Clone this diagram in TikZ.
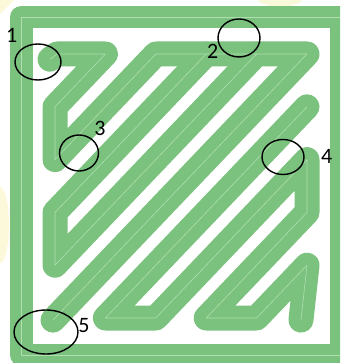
\documentclass[tikz,border=0pt]{standalone}
\usepackage{fontspec}
\setmainfont{Carlito}
\usetikzlibrary{shapes.geometric}
\definecolor{pathgreen}{RGB}{122,194,126}
\definecolor{pathlight}{RGB}{176,222,176}
\definecolor{wmyellow}{RGB}{252,249,218}
\begin{document}
\begin{tikzpicture}[x=1pt,y=-1pt,
  band/.style={draw=pathgreen, line width=25pt, line join=round, line cap=round},
  bandline/.style={draw=pathlight, line width=0.6pt, line join=round, line cap=round},
  ringmark/.style={ellipse, draw=black, line width=1.4pt, inner sep=0pt},
  numlabel/.style={font=\fontsize{22}{22}\selectfont, inner sep=0pt, text=black}]
\useasboundingbox (0,0) rectangle (340,363);
\begin{scope}
\clip (0,0) rectangle (340,363);
\fill[white] (0,0) rectangle (340,363);
% faint watermark traces
\fill[wmyellow] (280,-4) ellipse [x radius=24, y radius=11];
\fill[wmyellow] (0,225) ellipse [x radius=9, y radius=38];
\fill[wmyellow] (0,0) -- (14,0) -- (0,14) -- cycle;
% outer perimeter
\draw[band, line width=22.5pt] (21.5,17) rectangle (341,355);
\draw[bandline] (21.5,17) rectangle (341,355);
% infill (square model stretched to pixel rectangle)
\begin{scope}[shift={(55pt,-54pt)}, x=1.008pt, y=-1.056pt]
  \draw[band] (-5,5) -- (2,0) -- (50,0) -- (0,50) -- (0,100) -- (100,0) -- (250,0) -- (-2,252);
  \draw[band] (150,0) -- (0,150) -- (0,200) -- (200,0);
  \draw[band] (250,50) -- (50,250) -- (100,250) -- (250,100) -- (250,150) -- (150,250) -- (200,250) -- (250,200) -- (244,252);
  \draw[bandline] (-5,5) -- (2,0) -- (50,0) -- (0,50) -- (0,100) -- (100,0) -- (250,0) -- (-2,252);
  \draw[bandline] (150,0) -- (0,150) -- (0,200) -- (200,0);
  \draw[bandline] (250,50) -- (50,250) -- (100,250) -- (250,100) -- (250,150) -- (150,250) -- (200,250) -- (250,200) -- (244,252);
\end{scope}
\end{scope}
% circled spots
\node[ringmark, minimum width=46pt, minimum height=36pt] (c1) at (38,62) {};
\node[ringmark, minimum width=42pt, minimum height=38pt] (c2) at (239,38) {};
\node[ringmark, minimum width=39pt, minimum height=36pt] (c3) at (79,153) {};
\node[ringmark, minimum width=42pt, minimum height=35pt] (c4) at (283,157) {};
\node[ringmark, minimum width=64pt, minimum height=44pt] (c5) at (46,332) {};
% labels
\node[numlabel] (n1) at (11.7,35) {1};
\node[numlabel] (n2) at (212.7,51.7) {2};
\node[numlabel] (n3) at (100,128) {3};
\node[numlabel] (n4) at (326.7,156.7) {4};
\node[numlabel] (n5) at (84,325.7) {5};
\end{tikzpicture}
\end{document}
